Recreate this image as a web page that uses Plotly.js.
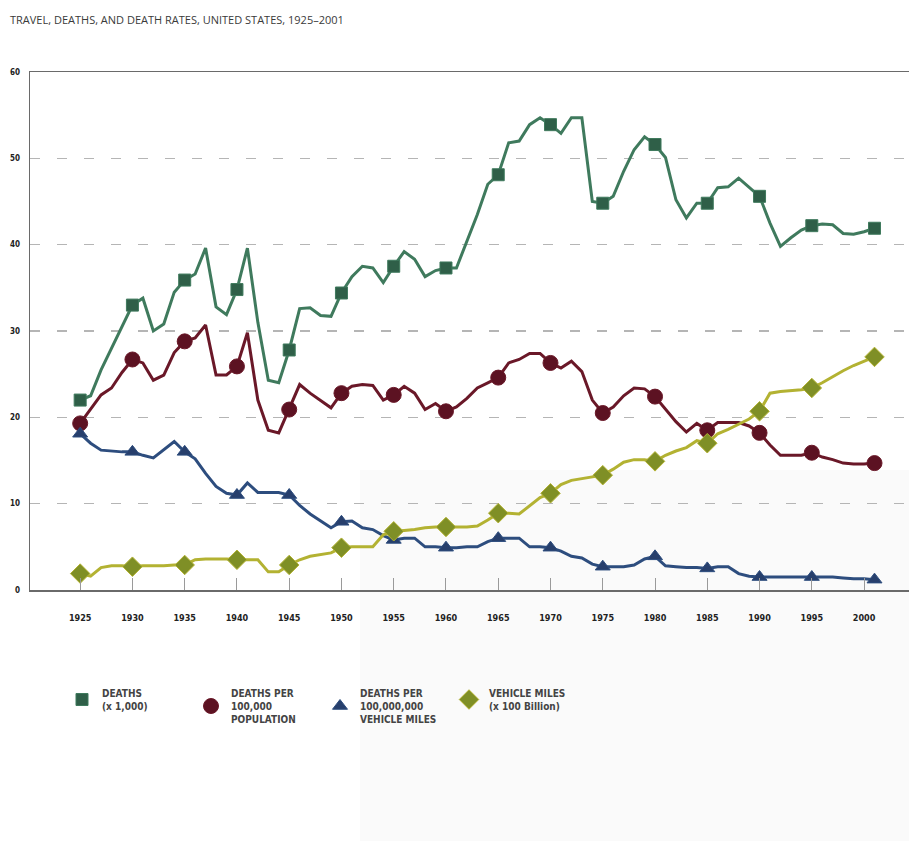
<!DOCTYPE html>
<html>
<head>
<meta charset="utf-8">
<script src="https://cdn.plot.ly/plotly-3.0.1.min.js"></script>
<style>
  html, body { margin: 0; padding: 0; background: #ffffff; }
  #chart { width: 909px; height: 841px; }
</style>
</head>
<body>
<div id="chart"></div>
<script>
// ---- Data ----
const years = [];
for (let y = 1925; y <= 2001; y++) years.push(y);

const deaths = [
  22.0, 22.5, 25.5, 28.0, 30.5, 33.0, 33.8, 30.0, 30.8, 34.5,
  35.9, 36.6, 39.6, 32.8, 31.9, 34.8, 39.6, 31.0, 24.3, 24.0,
  27.8, 32.6, 32.7, 31.8, 31.7, 34.4, 36.3, 37.5, 37.3, 35.6,
  37.5, 39.2, 38.3, 36.3, 37.0, 37.3, 37.3, 40.5, 43.5, 47.0,
  48.1, 51.8, 52.0, 53.9, 54.7, 53.9, 52.9, 54.7, 54.7, 45.0,
  44.8, 45.6, 48.5, 51.0, 52.5, 51.6, 50.1, 45.2, 43.1, 44.8,
  44.8, 46.6, 46.7, 47.7, 46.7, 45.6, 42.5, 39.8, 40.8, 41.7,
  42.2, 42.4, 42.3, 41.3, 41.2, 41.5, 41.9
];

const deathsPerPop = [
  19.3, 21.0, 22.6, 23.4, 25.2, 26.7, 26.3, 24.3, 24.9, 27.5,
  28.8, 29.2, 30.7, 24.9, 24.9, 25.9, 29.8, 22.0, 18.5, 18.2,
  20.9, 23.8, 22.8, 22.0, 21.1, 22.8, 23.6, 23.8, 23.7, 22.0,
  22.6, 23.6, 22.8, 20.9, 21.6, 20.7, 21.2, 22.2, 23.4, 24.0,
  24.6, 26.3, 26.7, 27.4, 27.4, 26.3, 25.7, 26.5, 25.3, 22.0,
  20.5, 21.2, 22.5, 23.4, 23.3, 22.4, 21.0, 19.5, 18.3, 19.3,
  18.5, 19.4, 19.4, 19.4, 19.0, 18.2, 16.8, 15.6, 15.6, 15.6,
  15.9, 15.4, 15.1, 14.7, 14.6, 14.6, 14.7
];

const deathsPerVM = [
  18.1, 17.0, 16.2, 16.1, 16.0, 16.0, 15.6, 15.3, 16.2, 17.2,
  16.0, 15.2, 13.5, 12.0, 11.2, 11.0, 12.4, 11.3, 11.3, 11.3,
  11.0, 9.8, 8.8, 8.0, 7.2, 7.9, 8.0, 7.2, 7.0, 6.3,
  5.8, 6.0, 6.0, 5.0, 5.0, 4.9, 4.9, 5.0, 5.0, 5.6,
  6.0, 6.0, 6.0, 5.0, 5.0, 4.9, 4.5, 3.9, 3.7, 3.0,
  2.7, 2.7, 2.7, 2.9, 3.6, 3.9, 2.8, 2.7, 2.6, 2.6,
  2.5, 2.7, 2.7, 1.9, 1.6, 1.5, 1.5, 1.5, 1.5, 1.5,
  1.5, 1.5, 1.5, 1.4, 1.3, 1.3, 1.2
];

const vehicleMiles = [
  1.9, 1.6, 2.6, 2.8, 2.8, 2.7, 2.8, 2.8, 2.8, 2.9,
  2.9, 3.5, 3.6, 3.6, 3.6, 3.5, 3.5, 3.5, 2.1, 2.1,
  2.9, 3.5, 3.9, 4.1, 4.3, 4.9, 5.0, 5.0, 5.0, 6.4,
  6.8, 6.9, 7.0, 7.2, 7.3, 7.3, 7.3, 7.3, 7.4, 8.1,
  8.9, 8.9, 8.8, 9.8, 10.7, 11.2, 12.2, 12.7, 12.9, 13.1,
  13.3, 14.0, 14.8, 15.1, 15.1, 14.9, 15.6, 16.1, 16.5, 17.3,
  17.0, 18.1, 18.6, 19.2, 19.8, 20.7, 22.8, 23.0, 23.1, 23.2,
  23.4, 24.0, 24.7, 25.4, 26.0, 26.5, 27.0
];

const seriesNames = [
  "DEATHS<br>(x 1,000)",
  "DEATHS PER<br>100,000<br>POPULATION",
  "DEATHS PER<br>100,000,000<br>VEHICLE MILES",
  "VEHICLE MILES<br>(x 100 Billion)"
];

const xTickVals = [1925,1930,1935,1940,1945,1950,1955,1960,1965,1970,1975,1980,1985,1990,1995,2000];
const yTickVals = [0,10,20,30,40,50,60];

// ---- Styling ----
const lineColors = ["#3f7a5d", "#6a1828", "#2d4d7e", "#b3b232"];
const markerColors = ["#2f5f48", "#5c1222", "#273f6c", "#7f8f26"];
const symbols = ["square", "circle", "triangle-up", "diamond"];
const sizes = [12, 15, 13, 15];
const seriesData = [deaths, deathsPerPop, deathsPerVM, vehicleMiles];

// marker years: every 5 years to 1995, then 2001
const markIdx = [];
years.forEach((y, i) => { if ((y % 5 === 0 && y < 2000) || y === 2001) markIdx.push(i); });

const traces = [];
seriesData.forEach((vals, k) => {
  traces.push({
    x: years, y: vals, type: "scatter", mode: "lines",
    line: { color: lineColors[k], width: 3 },
    showlegend: false, hoverinfo: "skip", cliponaxis: false
  });
});
seriesData.forEach((vals, k) => {
  traces.push({
    x: markIdx.map(i => years[i]), y: markIdx.map(i => vals[i]),
    type: "scatter", mode: "markers", name: seriesNames[k],
    marker: { symbol: symbols[k], size: sizes[k], color: markerColors[k],
              line: { color: lineColors[k], width: 1 } },
    cliponaxis: false
  });
});

const layout = {
  width: 909, height: 841,
  paper_bgcolor: "#ffffff", plot_bgcolor: "rgba(0,0,0,0)",
  margin: { l: 30, r: 0, t: 72, b: 251 },
  title: {
    text: "TRAVEL, DEATHS, AND DEATH RATES, UNITED STATES, 1925\u20132001",
    x: 10 / 909, xanchor: "left", xref: "container",
    y: 1 - 20 / 841, yanchor: "middle", yref: "container",
    font: { family: "Open Sans, Lato, sans-serif", size: 11, color: "#3a3a3a" }
  },
  xaxis: {
    range: [1920.2, 2004.3],
    tickvals: xTickVals, ticktext: xTickVals.map(String),
    showgrid: false, zeroline: false,
    showline: true, linecolor: "#6a6a6a", linewidth: 1.5, mirror: true,
    ticks: "inside", ticklen: 12, tickcolor: "#9a9a9a", tickwidth: 1,
    ticklabelstandoff: 19,
    tickfont: { family: "DejaVu Sans Condensed, DejaVu Sans, sans-serif", size: 9, color: "#222", weight: "bold" }
  },
  yaxis: {
    range: [0, 60],
    tickvals: yTickVals, ticktext: yTickVals.map(String),
    showgrid: true, gridcolor: "#b5b5b5", gridwidth: 1.5, griddash: "10px,17px",
    zeroline: false,
    showline: true, linecolor: "#6a6a6a", linewidth: 1.5,
    ticks: "", ticklabelstandoff: 7,
    tickfont: { family: "DejaVu Sans Condensed, DejaVu Sans, sans-serif", size: 8, color: "#222", weight: "bold" }
  },
  legend: {
    orientation: "h",
    x: (62 - 30) / 879, xanchor: "left",
    y: -90 / 518, yanchor: "top",
    entrywidth: 84, entrywidthmode: "pixels",
    valign: "middle",
    font: { family: "DejaVu Sans Condensed, DejaVu Sans, sans-serif", size: 10, color: "#444", weight: "bold" },
    bgcolor: "rgba(0,0,0,0)", itemsizing: "trace", tracegroupgap: 0
  },
  shapes: [
    { type: "rect", xref: "paper", yref: "paper", layer: "below",
      x0: (360 - 30) / 879, x1: 1, y0: -251 / 518, y1: 120 / 518,
      fillcolor: "rgba(0,0,0,0.018)", line: { width: 0 } }
  ],
  showlegend: true
};

Plotly.newPlot("chart", traces, layout, { displayModeBar: false, staticPlot: true });
</script>
</body>
</html>
